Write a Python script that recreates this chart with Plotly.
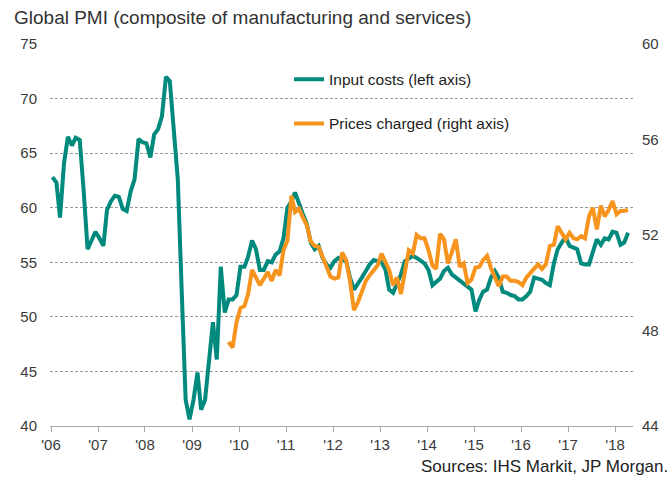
import pandas as pd
import plotly.graph_objects as go

# Input costs (left axis), monthly Jan 2006 - Apr 2018
input_costs = [
    62.8, 62.3, 59.1, 64.1, 66.5, 65.7, 66.4, 66.2, 61.5, 56.2, 57.0, 57.8,  # 2006
    57.2, 56.5, 59.8, 60.6, 61.1, 61.0, 59.9, 59.7, 61.5, 62.6, 66.3, 66.0,  # 2007
    65.9, 64.6, 66.7, 67.2, 68.4, 72.0, 71.6, 67.0, 62.6, 52.5, 42.4, 40.6,  # 2008
    42.4, 44.9, 41.5, 42.4, 45.5, 49.5, 46.1, 54.6, 50.4, 51.6, 51.6, 52.0,  # 2009
    54.6, 54.6, 55.5, 57.0, 56.2, 54.3, 54.3, 55.1, 55.0, 55.7, 56.0, 57.2,  # 2010
    60.0, 60.6, 61.4, 60.3, 59.4, 58.5, 56.8, 56.2, 56.5, 55.4, 54.8, 54.5,  # 2011
    55.1, 55.4, 55.2, 55.1, 53.6, 52.5, 53.0, 53.6, 54.2, 54.8, 55.2, 55.1,  # 2012
    55.0, 54.3, 52.5, 52.2, 53.1, 53.9, 55.1, 55.4, 55.6, 55.4, 55.1, 54.9,  # 2013
    54.3, 52.9, 53.2, 53.5, 54.2, 54.5, 53.9, 53.6, 53.3, 53.0, 52.8, 52.5,  # 2014
    50.5, 51.6, 52.3, 52.5, 53.6, 54.2, 53.6, 52.3, 52.2, 52.0, 51.9, 51.6,  # 2015
    51.6, 51.9, 52.3, 53.6, 53.5, 53.4, 53.1, 52.9, 54.9, 56.2, 56.8, 57.3,  # 2016
    56.5, 56.3, 56.2, 54.9, 54.8, 54.8, 55.9, 57.1, 56.6, 57.2, 57.1, 57.8,  # 2017
    57.7, 56.6, 56.8, 57.7,                                                  # 2018
]

# Prices charged (right axis), monthly Oct 2009 - Apr 2018
prices_start_index = 45
prices_charged = [
    47.52, 47.29, 48.34,                                                     # 2009
    48.94, 49.03, 49.53, 50.54, 50.22, 49.90, 50.17, 50.45, 50.08, 50.54, 50.31, 51.36,  # 2010
    51.77, 53.65, 52.96, 53.10, 52.73, 52.41, 51.73, 51.54, 51.50, 51.09, 50.67, 50.26,  # 2011
    50.17, 50.22, 51.27, 50.95, 50.08, 48.85, 49.17, 49.67, 50.08, 50.31, 50.54, 50.72,  # 2012
    51.22, 50.81, 50.54, 49.90, 50.22, 49.53, 50.54, 51.36, 51.22, 52.00, 51.86, 51.86,  # 2013
    51.36, 50.72, 50.58, 52.05, 51.82, 50.81, 51.27, 51.82, 50.67, 50.81, 49.99, 50.13,  # 2014
    50.63, 50.67, 50.95, 51.13, 50.63, 50.26, 49.85, 50.26, 50.26, 50.08, 50.08, 50.03,  # 2015
    49.90, 50.22, 50.40, 50.63, 50.77, 50.58, 50.77, 51.54, 51.59, 52.37, 52.09, 51.82,  # 2016
    52.09, 51.86, 51.82, 51.95, 51.86, 52.78, 53.14, 52.23, 53.23, 52.78, 53.05, 53.42,  # 2017
    52.87, 53.01, 53.01, 53.05,                                              # 2018
]

tick_years = list(range(2006, 2019))
tick_labels = ["'06", "'07", "'08", "'09", "'10", "'11", "'12", "'13", "'14", "'15", "'16", "'17", "'18"]
left_ticks = [40, 45, 50, 55, 60, 65, 70, 75]
right_ticks = [44, 48, 52, 56, 60]

dates = pd.date_range("2006-01-01", periods=len(input_costs), freq="MS") + pd.Timedelta(days=11)
price_dates = dates[prices_start_index:prices_start_index + len(prices_charged)]

TEAL = "#00897D"
ORANGE = "#F7941D"
FONT = "Liberation Sans, Arial, sans-serif"

fig = go.Figure()
fig.add_trace(go.Scatter(
    x=dates, y=input_costs, mode="lines", name="Input costs (left axis)",
    line=dict(color=TEAL, width=4), legendgroup="a", yaxis="y",
))
fig.add_trace(go.Scatter(
    x=price_dates, y=prices_charged, mode="lines", name="Prices charged (right axis)",
    line=dict(color=ORANGE, width=4), legendgroup="b", yaxis="y2",
))

fig.update_layout(
    width=671, height=477,
    margin=dict(l=50, r=35, t=44, b=51),
    paper_bgcolor="white", plot_bgcolor="white",
    font=dict(family=FONT, size=15, color="#3a3a3a"),
    showlegend=True,
    legend=dict(
        x=0.41, y=0.951, xanchor="left", yanchor="top",
        bgcolor="rgba(0,0,0,0)", traceorder="grouped", tracegroupgap=21,
        font=dict(size=15.5, color="#222222"),
    ),
    xaxis=dict(
        type="date",
        range=["2005-12-24", "2018-05-20"],
        tickvals=[f"{y}-01-01" for y in tick_years],
        ticktext=tick_labels,
        showgrid=False, zeroline=False,
        showline=True, linecolor="#a6a6a6", linewidth=1,
        ticks="outside", ticklen=5, tickcolor="#a6a6a6",
        tickfont=dict(size=15, color="#3a3a3a"),
    ),
    yaxis=dict(
        range=[40, 75], tickvals=left_ticks,
        showgrid=True, gridcolor="#9a9a9a", gridwidth=1, griddash="3px,2px",
        zeroline=False, showline=False, ticks="",
        ticklabelstandoff=12,
        tickfont=dict(size=15, color="#3a3a3a"),
    ),
    yaxis2=dict(
        range=[44, 60], tickvals=right_ticks,
        overlaying="y", side="right",
        showgrid=False, zeroline=False, showline=False, ticks="",
        ticklabelstandoff=8,
        tickfont=dict(size=15, color="#3a3a3a"),
    ),
    annotations=[
        dict(text="Global PMI (composite of manufacturing and services)",
             xref="paper", yref="paper", x=-0.065, y=1.07, xanchor="left", yanchor="middle",
             showarrow=False, font=dict(size=19, color="#333333")),
        dict(text="Sources: IHS Markit, JP Morgan.",
             xref="paper", yref="paper", x=1.064, y=-0.106, xanchor="right", yanchor="middle",
             showarrow=False, font=dict(size=17, color="#222222")),
    ],
)

fig.write_html("out.html")
